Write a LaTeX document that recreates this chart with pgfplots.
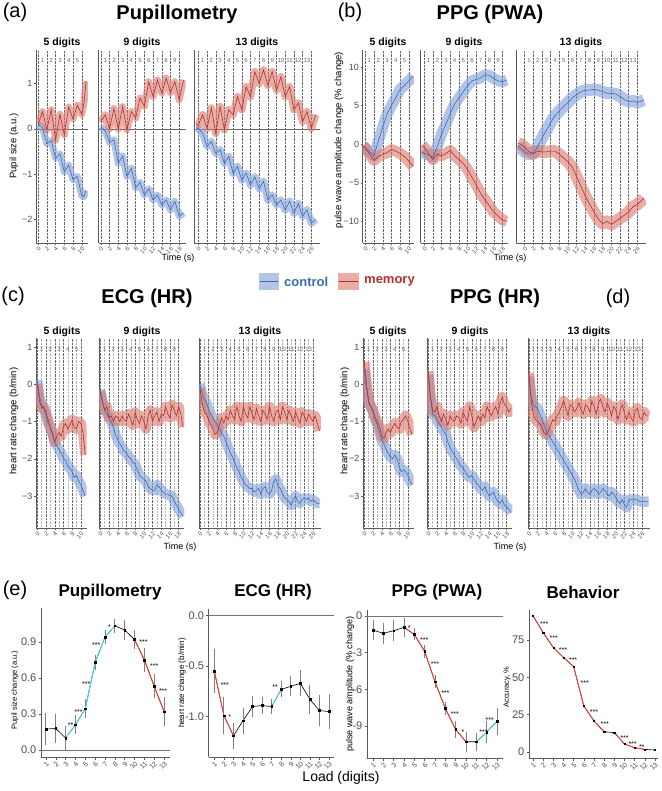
\documentclass[border=0pt]{standalone}
\usepackage{pgfplots}
\pgfplotsset{compat=1.18}
\usepackage{pgfplotstable}
\usepackage{fontspec}
\setmainfont{Liberation Sans}
\definecolor{cL}{HTML}{3A6BB0}
\definecolor{cF}{HTML}{7F9FD9}
\definecolor{mL}{HTML}{B2302C}
\definecolor{mF}{HTML}{D9766A}
\definecolor{cyS}{HTML}{40E6F2}
\definecolor{rdS}{HTML}{FF3B30}
\definecolor{axc}{HTML}{5A5A5A}
\definecolor{tkc}{HTML}{4D4D4D}
\newcommand\fs[1]{\fontsize{#1}{#1}\selectfont}

\pgfplotstableread{
t c m
0 0.10 0.10
1 0.02 0.38
2 -0.33 -0.02
3 -0.26 0.42
4 -0.65 -0.25
5 -0.55 0.32
6 -0.95 -0.13
7 -0.80 0.48
8 -1.12 0.22
9 -1.05 0.52
10 -1.48 0.32
10.5 -1.50 0.55
11 -1.36 1.05
}\tAa
\pgfplotstableread{
t c m
0 0.05 0.15
1 -0.05 0.31
2 -0.30 0.00
3 -0.24 0.45
4 -0.76 0.00
5 -0.60 0.49
6 -1.05 -0.02
7 -0.87 0.38
8 -1.30 0.24
9 -1.18 0.68
10 -1.46 0.50
11 -1.32 1.04
12 -1.57 0.71
13 -1.46 1.08
14 -1.68 0.79
15 -1.57 1.12
16 -1.79 0.80
17 -1.60 1.04
18 -1.93 0.64
19 -1.86 1.08
}\tAb
\pgfplotstableread{
t c m
-0.5 0.02 0.09
0 0.01 0.09
1 -0.10 0.31
2 -0.39 0.01
3 -0.28 0.46
4 -0.54 -0.10
5 -0.46 0.49
6 -0.76 -0.02
7 -0.61 0.42
8 -0.98 0.31
9 -0.83 0.71
10 -1.13 0.42
11 -0.98 0.93
12 -1.24 0.71
13 -1.06 1.26
14 -1.32 1.00
15 -1.16 1.30
16 -1.57 0.96
17 -1.46 1.26
18 -1.68 0.85
19 -1.57 1.15
20 -1.79 0.71
21 -1.60 0.93
22 -1.86 0.42
23 -1.65 0.57
24 -1.93 0.16
25 -1.79 0.38
26 -2.08 0.01
27 -2.00 0.31
}\tAc
\pgfplotstableread{
t c m
-0.5 -0.3 -0.2
0 -0.5 -0.5
1 -1.0 -1.3
2 -1.5 -2.1
3 0.4 -1.6
4 2.2 -1.3
5 3.9 -1.1
6 5.0 -0.7
7 6.0 -0.9
8 7.1 -1.2
9 7.6 -1.6
10 8.2 -2.2
11 8.8 -2.9
}\tBa
\pgfplotstableread{
t c m
-0.5 -1.0 -0.2
0 -1.2 -0.4
1 -1.4 -1.2
2 -1.7 -2.0
3 -0.3 -1.3
4 1.3 -1.5
5 2.6 -1.2
6 4.0 -0.8
7 5.2 -1.5
8 6.0 -2.0
9 6.8 -2.5
10 7.6 -3.3
11 8.2 -4.3
12 8.4 -5.3
13 8.6 -6.4
14 9.0 -7.2
15 8.9 -8.0
16 8.5 -8.8
17 8.2 -9.3
18 8.1 -9.8
19 8.3 -10.0
}\tBb
\pgfplotstableread{
t c m
-1.5 -0.2 0.1
-1 -0.5 0.0
0 -1.0 -0.4
1 -1.3 -1.0
2 -1.2 -1.2
3 -0.3 -0.9
4 0.8 -1.0
5 1.8 -1.0
6 2.8 -0.9
7 3.7 -0.9
8 4.3 -1.3
9 4.9 -1.8
10 5.4 -2.3
11 6.0 -3.0
12 6.4 -4.2
13 6.8 -5.5
14 7.0 -6.7
15 7.0 -7.8
16 7.1 -8.8
17 7.0 -9.7
18 6.8 -10.3
19 6.6 -10.0
20 6.6 -10.4
21 6.5 -10.0
22 6.2 -9.6
23 5.8 -9.2
24 5.5 -8.8
25 5.6 -8.1
26 5.4 -7.8
27 5.6 -7.3
27.5 5.7 -7.0
}\tBc
\pgfplotstableread{
t c m
0 0.10 0.00
0.5 -0.33 -0.45
1 -0.55 -0.65
1.5 -0.65 -0.60
2 -0.87 -0.75
2.5 -1.05 -0.95
3 -1.14 -1.20
3.5 -1.35 -1.30
4 -1.58 -1.55
4.5 -1.65 -1.40
5 -1.76 -1.30
5.5 -1.85 -1.40
6 -1.99 -1.15
6.5 -2.05 -1.05
7 -2.20 -1.20
7.5 -2.25 -1.10
8 -2.35 -0.95
8.5 -2.50 -1.15
9 -2.45 -1.20
9.5 -2.60 -1.00
10 -2.70 -1.05
10.5 -2.85 -1.30
11 -3.00 -1.90
}\tCa
\pgfplotstableread{
t c m
0 -0.15 -0.20
0.5 -0.45 -0.50
1 -0.70 -0.70
1.5 -0.80 -0.60
2 -0.90 -0.90
2.5 -1.00 -0.85
3 -1.15 -1.00
3.5 -1.35 -0.85
4 -1.50 -0.90
4.5 -1.60 -1.00
5 -1.70 -0.85
5.5 -1.80 -0.95
6 -1.85 -1.00
6.5 -1.95 -0.80
7 -2.00 -0.95
7.5 -2.10 -1.10
8 -2.15 -0.75
8.5 -2.30 -0.95
9 -2.45 -1.05
9.5 -2.50 -0.85
10 -2.55 -1.00
10.5 -2.60 -1.20
11 -2.75 -0.85
11.5 -2.80 -0.70
12 -2.85 -1.00
12.5 -2.85 -0.85
13 -2.70 -0.75
13.5 -2.75 -1.00
14 -2.85 -0.80
14.5 -2.90 -0.85
15 -2.95 -0.60
15.5 -2.95 -0.80
16 -3.00 -0.90
16.5 -3.00 -0.55
17 -3.15 -0.70
17.5 -3.25 -0.85
18 -3.35 -0.60
18.5 -3.45 -0.80
19 -3.55 -1.15
}\tCb
\pgfplotstableread{
t c m
0 0.00 -0.10
0.5 -0.25 -0.50
1 -0.40 -0.75
1.5 -0.50 -0.80
2 -0.65 -0.95
2.5 -0.80 -1.10
3 -0.90 -1.20
3.5 -1.00 -1.35
4 -1.10 -1.30
4.5 -1.20 -1.10
5 -1.30 -0.90
5.5 -1.40 -1.05
6 -1.55 -0.85
6.5 -1.70 -0.95
7 -1.85 -0.70
7.5 -1.95 -0.85
8 -2.10 -0.95
8.5 -2.25 -0.60
9 -2.35 -0.85
9.5 -2.50 -1.00
10 -2.60 -0.60
10.5 -2.70 -0.80
11 -2.75 -0.90
11.5 -2.80 -0.60
12 -2.80 -0.80
12.5 -2.90 -0.95
13 -2.85 -0.65
13.5 -2.80 -0.85
14 -2.95 -1.00
14.5 -2.80 -0.70
15 -2.75 -0.80
15.5 -2.90 -0.95
16 -2.95 -0.60
16.5 -2.85 -0.85
17 -2.60 -1.00
17.5 -2.55 -0.75
18 -2.75 -0.70
18.5 -2.80 -0.95
19 -2.95 -0.60
19.5 -3.05 -0.75
20 -3.10 -0.95
20.5 -3.15 -0.70
21 -3.25 -0.85
21.5 -3.10 -1.00
22 -3.00 -0.75
22.5 -3.15 -0.90
23 -3.20 -1.05
23.5 -3.10 -0.75
24 -3.05 -0.85
24.5 -3.10 -1.00
25 -3.05 -0.80
25.5 -3.15 -0.90
26 -3.10 -1.00
26.5 -3.15 -0.85
27 -3.20 -1.05
27.5 -3.20 -1.25
}\tCc
\pgfplotstableread{
t c m
0 0.40 0.60
0.5 -0.10 0.00
1 -0.50 -0.45
1.5 -0.60 -0.60
2 -0.75 -0.70
2.5 -0.95 -0.90
3 -1.10 -1.00
3.5 -1.30 -1.15
4 -1.50 -1.40
4.5 -1.60 -1.45
5 -1.75 -1.30
5.5 -1.85 -1.20
6 -1.95 -1.30
6.5 -2.00 -1.15
7 -1.90 -1.05
7.5 -2.00 -1.15
8 -2.20 -1.20
8.5 -2.35 -1.00
9 -2.30 -0.95
9.5 -2.35 -0.85
10 -2.45 -1.00
10.5 -2.60 -1.20
11 -2.70 -1.35
}\tDa
\pgfplotstableread{
t c m
0 0.25 0.35
0.5 -0.40 -0.35
1 -0.80 -0.70
1.5 -0.85 -0.75
2 -0.95 -0.60
2.5 -1.05 -0.85
3 -1.15 -1.00
3.5 -1.25 -0.80
4 -1.35 -0.95
4.5 -1.55 -1.10
5 -1.70 -0.85
5.5 -1.80 -0.95
6 -1.90 -1.00
6.5 -2.00 -0.85
7 -2.10 -0.90
7.5 -2.20 -1.05
8 -2.25 -0.75
8.5 -2.35 -0.90
9 -2.45 -1.00
9.5 -2.50 -0.60
10 -2.45 -0.85
10.5 -2.55 -1.15
11 -2.65 -1.00
11.5 -2.70 -0.85
12 -2.80 -1.00
12.5 -2.85 -0.80
13 -2.75 -0.90
13.5 -2.90 -0.60
14 -3.00 -0.75
14.5 -2.95 -0.85
15 -2.90 -0.70
15.5 -3.05 -0.60
16 -3.15 -0.80
16.5 -3.20 -0.50
17 -3.10 -0.35
17.5 -3.25 -0.55
18 -3.30 -0.60
18.5 -3.35 -0.75
19 -3.45 -0.65
}\tDb
\pgfplotstableread{
t c m
0 0.20 0.30
0.5 -0.30 -0.40
1 -0.55 -0.80
1.5 -0.60 -0.95
2 -0.65 -1.00
2.5 -0.80 -1.05
3 -0.95 -1.15
3.5 -1.10 -1.30
4 -1.25 -1.35
4.5 -1.35 -1.25
5 -1.45 -1.10
5.5 -1.55 -0.95
6 -1.65 -1.00
6.5 -1.75 -0.85
7 -1.85 -0.75
7.5 -1.95 -0.60
8 -2.05 -0.45
8.5 -2.15 -0.65
9 -2.25 -0.85
9.5 -2.35 -0.55
10 -2.45 -0.60
10.5 -2.55 -0.75
11 -2.70 -0.65
11.5 -2.85 -0.50
12 -2.95 -0.70
12.5 -2.90 -0.80
13 -2.80 -0.55
13.5 -2.90 -0.60
14 -2.95 -0.75
14.5 -2.85 -0.45
15 -2.80 -0.60
15.5 -2.85 -0.80
16 -2.95 -0.50
16.5 -2.90 -0.40
17 -2.80 -0.60
17.5 -2.85 -0.75
18 -2.95 -0.50
18.5 -3.00 -0.65
19 -2.90 -0.85
19.5 -2.95 -0.60
20 -3.05 -0.70
20.5 -3.15 -0.95
21 -3.20 -0.70
21.5 -3.10 -0.55
22 -3.25 -0.80
22.5 -3.30 -0.95
23 -3.10 -0.75
23.5 -3.10 -0.90
24 -3.10 -1.00
24.5 -3.10 -0.70
25 -3.10 -0.65
25.5 -3.15 -0.90
26 -3.15 -0.95
26.5 -3.15 -0.75
27 -3.15 -0.85
27.5 -3.15 -0.85
}\tDc

\pgfplotstableread{
x y e
1 0.175 0.13
2 0.18 0.12
3 0.10 0.10
4 0.21 0.08
5 0.345 0.08
6 0.73 0.06
7 0.94 0.06
8 1.035 0.06
9 1.00 0.08
10 0.92 0.08
11 0.75 0.10
12 0.53 0.10
13 0.32 0.12
}\tEa
\pgfplotstableread{
x y e
1 -0.55 0.22
2 -0.99 0.18
3 -1.19 0.13
4 -1.04 0.13
5 -0.90 0.10
6 -0.89 0.08
7 -0.90 0.07
8 -0.73 0.08
9 -0.70 0.10
10 -0.67 0.13
11 -0.83 0.14
12 -0.94 0.15
13 -0.95 0.17
}\tEb
\pgfplotstableread{
x y e
1 -1.15 0.85
2 -1.42 0.85
3 -1.20 0.85
4 -0.93 0.80
5 -1.50 0.50
6 -2.90 0.55
7 -5.37 0.55
8 -7.55 0.55
9 -9.27 0.70
10 -10.27 0.80
11 -10.27 0.75
12 -9.50 0.90
13 -8.59 1.10
}\tEc
\pgfplotstableread{
x y
1 91.3
2 80.0
3 70.0
4 63.3
5 57.2
6 30.9
7 20.8
8 13.6
9 13.0
10 5.4
11 2.9
12 1.8
13 1.3
}\tEd

% confidence band drawn as a wide translucent stroke, then the mean line
\newcommand{\series}[2]{% table, band width (pt)
  \addplot[cF, opacity=0.6, line width=#2, line join=round, line cap=butt, forget plot] table[x=t, y=c] {#1};
  \addplot[mF, opacity=0.6, line width=#2, line join=round, line cap=butt, forget plot] table[x=t, y=m] {#1};
  \addplot[cL, line width=0.6pt] table[x=t, y=c] {#1};
  \addplot[mL, line width=0.6pt] table[x=t, y=m] {#1};
}
\tikzset{dig/.style={font=\fs{6}, text=black!60, inner sep=0pt},
         star/.style={font=\fs{7}, inner sep=0pt}}
\newcommand{\digits}[4]{\foreach \i in {1,...,#1}{\node[dig] at ({(#2+(2*\i-1)*#3)*1pt},#4pt) {\i};}}

\pgfplotsset{
  ts/.style={scale only axis, anchor=south west,
    axis x line*=bottom, axis y line*=left,
    axis line style={axc, line width=0.5pt},
    tick align=outside, major tick length=2pt,
    tick style={axc, line width=0.4pt},
    xmajorgrids, major grid style={densely dotted, black!60, line width=0.4pt},
    xticklabel style={rotate=45, anchor=north east, font=\fs{6}, text=tkc, inner sep=0.8pt},
    yticklabel style={font=\fs{9}, text=tkc, inner sep=1.5pt},
    /pgf/number format/assume math mode=true},
  rowA/.style={ymin=-2.52, ymax=1.74, height=193pt, ytick={-2,-1,0,1}, yticklabels={−2,−1,0,1}},
  rowB/.style={ymin=-12.8, ymax=12.2, height=193pt, ytick={-10,-5,0,5,10}, yticklabels={−10,−5,0,5,10}},
  rowC/.style={ymin=-3.86, ymax=1.24, height=190pt, ytick={-3,-2,-1,0,1}, yticklabels={−3,−2,−1,0,1},
    minor x tick num=1, xminorgrids, minor tick length=0pt, minor grid style={densely dotted, black!28, line width=0.4pt}},
  inner/.style={ytick=\empty},
  p9/.style={xtick={0,2,...,18}},
  p13/.style={xtick={0,2,...,26}},
  bt/.style={scale only axis, anchor=south west,
    axis x line*=bottom, axis y line*=left,
    axis line style={axc, line width=0.6pt},
    tick align=outside, major tick length=2.5pt, tick style={axc, line width=0.5pt},
    xtick={1,...,13},
    xticklabel style={rotate=45, anchor=north east, font=\fs{7}, text=tkc, inner sep=0.8pt},
    yticklabel style={font=\fs{11}, text=tkc, inner sep=2pt},
    /pgf/number format/assume math mode=true},
  eb/.style={black, line width=0.6pt, mark=square*, mark size=0.8pt,
    error bars/.cd, y dir=both, y explicit, error mark=none,
    error bar style={black!50, line width=0.9pt}},
}

\begin{document}
\begin{tikzpicture}
\path[use as bounding box] (0pt,0pt) rectangle (661pt,-791pt);

% ===================== (a) Pupillometry
\node[font=\fs{20}] at (15pt,-12pt) {(a)};
\node[font=\fs{20}\bfseries] at (177pt,-14pt) {Pupillometry};
\begin{axis}[ts, rowA, at={(36pt,-243pt)}, width=51.8pt, xmin=-0.5, xmax=11.4, xtick={0,2,...,10}]
\addplot[black!60, line width=0.5pt, forget plot] coordinates {(-5,0) (40,0)};
\series{\tAa}{7pt}
\end{axis}
\begin{axis}[ts, rowA, inner, at={(98.7pt,-243pt)}, width=87pt, xmin=-0.5, xmax=19.5, p9]
\addplot[black!60, line width=0.5pt, forget plot] coordinates {(-5,0) (40,0)};
\series{\tAb}{7pt}
\end{axis}
\begin{axis}[ts, rowA, inner, at={(194pt,-243pt)}, width=126pt, xmin=-1, xmax=28, p13]
\addplot[black!60, line width=0.5pt, forget plot] coordinates {(-5,0) (40,0)};
\series{\tAc}{7.5pt}
\end{axis}
\digits{5}{38.2}{4.353}{-60}
\digits{9}{100.9}{4.35}{-60}
\digits{13}{198.3}{4.345}{-60}
\node[font=\fs{10.5}\bfseries] at (62pt,-43pt) {5 digits};
\node[font=\fs{10.5}\bfseries] at (142pt,-43pt) {9 digits};
\node[font=\fs{10.5}\bfseries] at (257pt,-43pt) {13 digits};
\node[font=\fs{9.5}, rotate=90] at (14pt,-146pt) {Pupil size (a.u.)};
\node[font=\fs{9}] at (178pt,-258pt) {Time (s)};

% ===================== (b) PPG (PWA)
\node[font=\fs{20}] at (350pt,-12pt) {(b)};
\node[font=\fs{20}\bfseries] at (490pt,-14pt) {PPG (PWA)};
\begin{axis}[ts, rowB, at={(362.7pt,-243pt)}, width=51.3pt, xmin=-0.6, xmax=11.2, xtick={0,2,...,10}]
\series{\tBa}{11pt}
\end{axis}
\begin{axis}[ts, rowB, inner, at={(420.7pt,-243pt)}, width=87.4pt, xmin=-0.8, xmax=19.3, p9]
\series{\tBb}{11pt}
\end{axis}
\begin{axis}[ts, rowB, inner, at={(516pt,-243pt)}, width=130pt, xmin=-2, xmax=28, p13]
\series{\tBc}{12pt}
\end{axis}
\digits{5}{365.3}{4.347}{-60}
\digits{9}{424.2}{4.348}{-60}
\digits{13}{524.7}{4.333}{-60}
\node[font=\fs{10.5}\bfseries] at (388pt,-43pt) {5 digits};
\node[font=\fs{10.5}\bfseries] at (464pt,-43pt) {9 digits};
\node[font=\fs{10.5}\bfseries] at (581pt,-43pt) {13 digits};
\node[font=\fs{9.5}, rotate=90] at (339pt,-140pt) {pulse wave amplitude change (\% change)};
\node[font=\fs{9}] at (510pt,-258pt) {Time (s)};

% ===================== legend
\fill[cF, fill opacity=0.6] (258.5pt,-272.5pt) rectangle (279pt,-290pt);
\draw[cL, line width=0.8pt] (260pt,-281.2pt) -- (277.5pt,-281.2pt);
\node[font=\fs{13}\bfseries, text=cL, anchor=west, inner sep=0pt] at (284pt,-281.5pt) {control};
\fill[mF, fill opacity=0.6] (337.5pt,-272.5pt) rectangle (359pt,-290pt);
\draw[mL, line width=0.8pt] (339pt,-281.2pt) -- (357.5pt,-281.2pt);
\node[font=\fs{13}\bfseries, text=mL, anchor=west, inner sep=0pt] at (364pt,-281.5pt) {memory};

% ===================== (c) ECG (HR)
\node[font=\fs{20}] at (13pt,-296pt) {(c)};
\node[font=\fs{20}\bfseries] at (147pt,-298pt) {ECG (HR)};
\begin{axis}[ts, rowC, at={(36pt,-528pt)}, width=50.5pt, xmin=-0.3, xmax=11.3, xtick={0,2,...,10}]
\series{\tCa}{10pt}
\end{axis}
\begin{axis}[ts, rowC, inner, at={(99pt,-528pt)}, width=85.3pt, xmin=-0.3, xmax=19.3, p9]
\series{\tCb}{10pt}
\end{axis}
\begin{axis}[ts, rowC, inner, at={(199pt,-528pt)}, width=121.8pt, xmin=-0.2, xmax=27.8, p13]
\series{\tCc}{10pt}
\end{axis}
\digits{5}{37.3}{4.353}{-349}
\digits{9}{100.3}{4.352}{-349}
\digits{13}{199.9}{4.35}{-349}
\node[font=\fs{10.5}\bfseries] at (62pt,-332pt) {5 digits};
\node[font=\fs{10.5}\bfseries] at (142pt,-332pt) {9 digits};
\node[font=\fs{10.5}\bfseries] at (260pt,-332pt) {13 digits};
\node[font=\fs{9.5}, rotate=90] at (14pt,-421pt) {heart rate change (b/min)};
\node[font=\fs{9}] at (180pt,-547pt) {Time (s)};

% ===================== (d) PPG (HR)
\node[font=\fs{20}\bfseries] at (495pt,-298pt) {PPG (HR)};
\node[font=\fs{20}] at (618pt,-298pt) {(d)};
\begin{axis}[ts, rowC, at={(363pt,-528pt)}, width=50.5pt, xmin=-0.3, xmax=11.3, xtick={0,2,...,10}]
\series{\tDa}{10.5pt}
\end{axis}
\begin{axis}[ts, rowC, inner, at={(427pt,-528pt)}, width=85.3pt, xmin=-0.3, xmax=19.3, p9]
\series{\tDb}{10.5pt}
\end{axis}
\begin{axis}[ts, rowC, inner, at={(528pt,-528pt)}, width=121.8pt, xmin=-0.2, xmax=27.8, p13]
\series{\tDc}{10.5pt}
\end{axis}
\digits{5}{364.3}{4.353}{-349}
\digits{9}{428.3}{4.352}{-349}
\digits{13}{528.9}{4.35}{-349}
\node[font=\fs{10.5}\bfseries] at (388pt,-332pt) {5 digits};
\node[font=\fs{10.5}\bfseries] at (470pt,-332pt) {9 digits};
\node[font=\fs{10.5}\bfseries] at (589pt,-332pt) {13 digits};
\node[font=\fs{9.5}, rotate=90] at (345pt,-421pt) {heart rate change (b/min)};
\node[font=\fs{9}] at (510pt,-547pt) {Time (s)};

% ===================== (e) load effects
\node[font=\fs{20}] at (15pt,-590pt) {(e)};
\node[font=\fs{17}\bfseries] at (110pt,-592pt) {Pupillometry};
\node[font=\fs{17}\bfseries] at (273pt,-592pt) {ECG (HR)};
\node[font=\fs{17}\bfseries] at (437pt,-592pt) {PPG (PWA)};
\node[font=\fs{17}\bfseries] at (583pt,-592pt) {Behavior};

\begin{axis}[bt, at={(41pt,-757pt)}, width=129pt, height=149pt, xmin=0.5, xmax=13.6, ymin=-0.058, ymax=1.183,
  ytick={0,0.3,0.6,0.9}, yticklabels={0.0,0.3,0.6,0.9}]
\addplot[black!55, line width=0.7pt, forget plot] coordinates {(0,0) (14,0)};
\addplot[eb] table[x=x, y=y, y error=e] {\tEa};
\addplot[cyS, line width=0.8pt, restrict x to domain=3:8] table[x=x, y=y] {\tEa};
\addplot[rdS, line width=0.8pt, restrict x to domain=10:13] table[x=x, y=y] {\tEa};
\addplot[only marks, mark=square*, mark size=0.8pt, black] table[x=x, y=y] {\tEa};
\node[star] at (axis cs:3.5,0.21) {**};
\node[star] at (axis cs:4.3,0.32) {***};
\node[star] at (axis cs:5.1,0.55) {***};
\node[star] at (axis cs:6.1,0.87) {***};
\node[star] at (axis cs:7.45,1.02) {*};
\node[star] at (axis cs:10.9,0.90) {***};
\node[star] at (axis cs:12.0,0.70) {***};
\node[star] at (axis cs:12.9,0.49) {***};
\end{axis}
\node[font=\fs{7.5}, rotate=90] at (15pt,-690pt) {Pupil size change (a.u.)};

\begin{axis}[bt, at={(208.7pt,-757pt)}, width=125.3pt, height=148pt, xmin=0.41, xmax=13.52, ymin=-1.40, ymax=0.066,
  ytick={-1,-0.5,0}, yticklabels={-1.0,-0.5,0.0}]
\addplot[black!55, line width=0.7pt, forget plot] coordinates {(0,0) (14,0)};
\addplot[eb] table[x=x, y=y, y error=e] {\tEb};
\addplot[rdS, line width=0.8pt, restrict x to domain=1:3] table[x=x, y=y] {\tEb};
\addplot[cyS, line width=0.8pt, restrict x to domain=7:8] table[x=x, y=y] {\tEb};
\addplot[only marks, mark=square*, mark size=0.8pt, black] table[x=x, y=y] {\tEb};
\node[star] at (axis cs:2.1,-0.69) {***};
\node[star] at (axis cs:2.6,-1.0) {*};
\node[star] at (axis cs:7.35,-0.71) {**};
\end{axis}
\node[font=\fs{8}, rotate=90] at (182pt,-683pt) {heart rate change (b/min)};

\begin{axis}[bt, at={(367pt,-758pt)}, width=136pt, height=148pt, xmin=0.42, xmax=13.58, ymin=-11.6, ymax=0.49,
  ytick={-9,-6,-3,0}]
\addplot[black!55, line width=0.7pt, forget plot] coordinates {(0,0) (14,0)};
\addplot[eb] table[x=x, y=y, y error=e] {\tEc};
\addplot[rdS, line width=0.8pt, restrict x to domain=4:10] table[x=x, y=y] {\tEc};
\addplot[cyS, line width=0.8pt, restrict x to domain=11:13] table[x=x, y=y] {\tEc};
\addplot[only marks, mark=square*, mark size=0.8pt, black] table[x=x, y=y] {\tEc};
\node[star] at (axis cs:4.5,-0.95) {*};
\node[star] at (axis cs:5.95,-1.96) {***};
\node[star] at (axis cs:7.0,-3.95) {***};
\node[star] at (axis cs:8.0,-6.27) {***};
\node[star] at (axis cs:8.9,-8.0) {***};
\node[star] at (axis cs:9.7,-9.46) {*};
\node[star] at (axis cs:11.7,-9.5) {***};
\node[star] at (axis cs:12.3,-8.5) {***};
\end{axis}
\node[font=\fs{9}, rotate=90] at (350pt,-684pt) {pulse wave amplitude (\% change)};

\begin{axis}[bt, at={(529pt,-758pt)}, width=129pt, height=148pt, xmin=0.61, xmax=13.3, ymin=-4, ymax=95.1,
  ytick={0,25,50,75}]
\addplot[black, line width=0.6pt] table[x=x, y=y] {\tEd};
\addplot[rdS, line width=0.8pt, restrict x to domain=1:8] table[x=x, y=y] {\tEd};
\addplot[rdS, line width=0.8pt, restrict x to domain=9:12] table[x=x, y=y] {\tEd};
\addplot[only marks, mark=square*, mark size=0.6pt, black] table[x=x, y=y] {\tEd};
\node[star] at (axis cs:2.1,86) {***};
\node[star] at (axis cs:3.05,76) {***};
\node[star] at (axis cs:3.96,68.4) {***};
\node[star] at (axis cs:4.95,61.6) {***};
\node[star] at (axis cs:6.1,46) {***};
\node[star] at (axis cs:7.0,27) {***};
\node[star] at (axis cs:8.05,18.6) {***};
\node[star] at (axis cs:10.0,9.6) {***};
\node[star] at (axis cs:10.8,5.6) {***};
\node[star] at (axis cs:11.7,3.4) {**};
\end{axis}
\node[font=\fs{7.5}, rotate=90] at (507pt,-687pt) {Accuracy, \%};

\node[font=\fs{14}] at (341pt,-778pt) {Load (digits)};
\end{tikzpicture}
\end{document}
